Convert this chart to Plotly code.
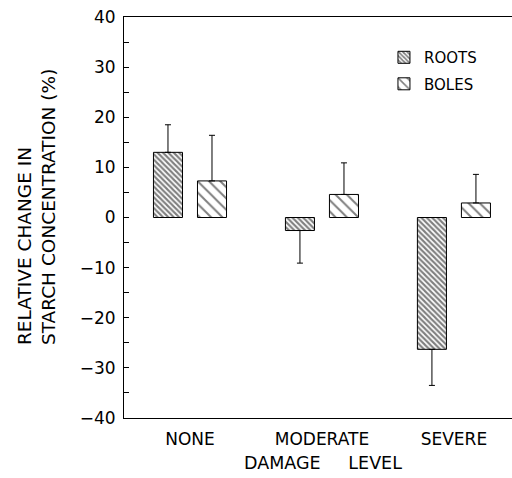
import plotly.graph_objects as go

categories = ["NONE", "MODERATE", "SEVERE"]
roots = [13.0, -2.6, -26.3]
roots_err = [5.5, 6.5, 7.2]
boles = [7.3, 4.6, 2.9]
boles_err = [9.1, 6.3, 5.7]
y_ticks = [-40, -30, -20, -10, 0, 10, 20, 30, 40]

def up(vals, errs):
    return [e if v >= 0 else 0 for v, e in zip(vals, errs)]

def down(vals, errs):
    return [e if v < 0 else 0 for v, e in zip(vals, errs)]

FONT = "DejaVu Sans"

fig = go.Figure()
fig.add_trace(go.Bar(
    x=categories, y=roots, name="ROOTS", legendgroup="roots",
    marker=dict(color="white", line=dict(color="black", width=1),
                pattern=dict(shape="\\", size=3.8, solidity=0.55, fgcolor="black", bgcolor="white")),
    error_y=dict(type="data", array=up(roots, roots_err), arrayminus=down(roots, roots_err),
                 symmetric=False, color="black", thickness=1, width=3),
))
fig.add_trace(go.Bar(
    x=categories, y=boles, name="BOLES", legendgroup="boles",
    marker=dict(color="white", line=dict(color="black", width=1),
                pattern=dict(shape="\\", size=8, solidity=0.25, fgcolor="black", bgcolor="white")),
    error_y=dict(type="data", array=up(boles, boles_err), arrayminus=down(boles, boles_err),
                 symmetric=False, color="black", thickness=1, width=3),
))

fig.update_layout(
    width=512, height=478,
    margin=dict(l=124, r=0, t=17, b=60, autoexpand=False),
    paper_bgcolor="white", plot_bgcolor="white",
    barmode="group", bargap=0.333, bargroupgap=0.34,
    font=dict(family=FONT, size=16, color="black"),
    showlegend=True,
    legend=dict(x=0.67, y=0.94, xanchor="left", yanchor="top",
                font=dict(size=15), tracegroupgap=4, bgcolor="rgba(0,0,0,0)"),
    xaxis=dict(range=[-0.5, 2.44], showline=True, linecolor="black", linewidth=1,
               mirror=True, ticks="", showgrid=False, zeroline=False, automargin=False,
               tickfont=dict(size=17), ticklabelstandoff=6),
    yaxis=dict(range=[-40, 40], tickvals=y_ticks, showline=True, linecolor="black",
               linewidth=1, ticks="inside", ticklen=5, tickcolor="black", automargin=False,
               showgrid=False, zeroline=False, tickfont=dict(size=17), ticklabelstandoff=4,
               minor=dict(dtick=5, ticks="inside", ticklen=5, tickcolor="black", showgrid=False)),
    annotations=[
        dict(text="RELATIVE CHANGE IN<br>STARCH CONCENTRATION (%)",
             xref="paper", yref="paper", x=-0.227, y=0.526, xanchor="center", yanchor="middle",
             textangle=-90, align="left", showarrow=False, font=dict(size=18.5)),
        dict(text="DAMAGE\u00a0\u00a0\u00a0\u00a0\u00a0LEVEL",
             xref="paper", yref="paper", x=0.512, y=-0.112, xanchor="center", yanchor="middle",
             showarrow=False, font=dict(size=17.5)),
    ],
)

fig.write_html("out.html", config={"displayModeBar": False},
               post_script="document.body.style.margin='0px';")
